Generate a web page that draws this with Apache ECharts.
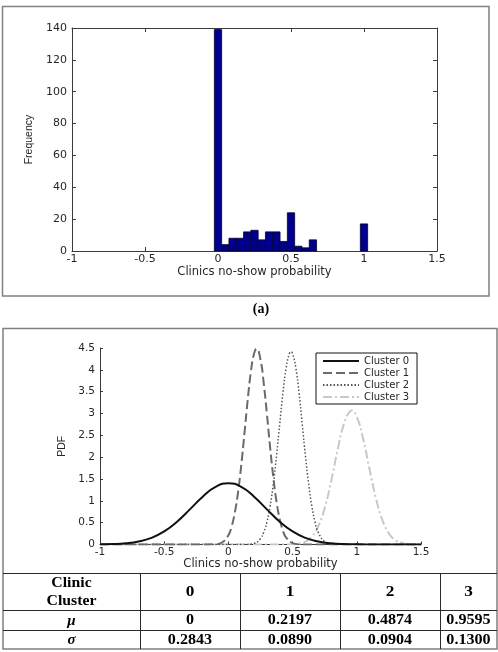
<!DOCTYPE html>
<html>
<head>
<meta charset="utf-8">
<script src="https://cdn.jsdelivr.net/npm/echarts@6/dist/echarts.min.js"></script>
<style>
html,body{margin:0;padding:0;background:#fff;}
#c{width:498px;height:652px;}
</style>
</head>
<body>
<div id="c"></div>
<script>
// ---- Histogram (a) ----
const histBins = [0, 0.05, 0.1, 0.15, 0.2, 0.25, 0.3, 0.35, 0.4, 0.45, 0.5, 0.55, 0.6, 0.65, 1.0];
const histFreq = [139, 4, 8, 8, 12, 13, 7, 12, 12, 6, 24, 3, 2, 7, 17];
const binWidth = 0.05;

// ---- PDF curves ----
const clusterNames = ['Cluster 0', 'Cluster 1', 'Cluster 2', 'Cluster 3'];
const c0X = [-1, -0.9, -0.8, -0.7, -0.6, -0.5, -0.4, -0.3, -0.2, -0.1, 0, 0.1, 0.2, 0.3, 0.4, 0.5, 0.6, 0.7, 0.8, 0.9, 1.0, 1.1, 1.2, 1.3, 1.4, 1.5];
const c0Y = [0.003, 0.009, 0.027, 0.068, 0.151, 0.299, 0.521, 0.804, 1.095, 1.319, 1.403, 1.319, 1.095, 0.804, 0.521, 0.299, 0.151, 0.068, 0.027, 0.009, 0.003, 0.001, 0, 0, 0, 0];
const c1X = [-1, -0.5, -0.2, -0.1, -0.05, 0, 0.025, 0.05, 0.075, 0.1, 0.125, 0.15, 0.175, 0.2, 0.22, 0.25, 0.275, 0.3, 0.325, 0.35, 0.375, 0.4, 0.425, 0.45, 0.5, 0.55, 0.6, 1, 1.5];
const c1Y = [0, 0, 0, 0.007, 0.046, 0.213, 0.410, 0.728, 1.196, 1.814, 2.545, 3.299, 3.952, 4.375, 4.483, 4.231, 3.696, 2.984, 2.226, 1.535, 0.978, 0.576, 0.313, 0.158, 0.031, 0.004, 0, 0, 0];
const c2X = [-1, -0.5, 0, 0.1, 0.2, 0.25, 0.275, 0.3, 0.325, 0.35, 0.375, 0.4, 0.425, 0.45, 0.475, 0.4874, 0.5, 0.525, 0.55, 0.575, 0.6, 0.625, 0.65, 0.675, 0.7, 0.75, 0.8, 0.85, 0.9, 1.5];
const c2Y = [0, 0, 0, 0, 0.028, 0.140, 0.279, 0.515, 0.879, 1.390, 2.037, 2.766, 3.477, 4.051, 4.372, 4.413, 4.370, 4.047, 3.472, 2.759, 2.031, 1.386, 0.875, 0.512, 0.278, 0.065, 0.011, 0.001, 0, 0];
const c3X = [-1, -0.5, 0, 0.4, 0.5, 0.55, 0.6, 0.65, 0.7, 0.75, 0.8, 0.85, 0.9, 0.95, 0.96, 1.0, 1.05, 1.1, 1.15, 1.2, 1.25, 1.3, 1.35, 1.4, 1.45, 1.5];
const c3Y = [0, 0, 0, 0, 0.006, 0.021, 0.067, 0.180, 0.419, 0.837, 1.446, 2.153, 2.764, 3.061, 3.069, 2.924, 2.409, 1.712, 1.049, 0.554, 0.253, 0.099, 0.034, 0.010, 0.002, 0.001];

// ---- Table ----
const tableHeaderLabel = ['Clinic', 'Cluster'];
const tableClusters = ['0', '1', '2', '3'];
const tableMu = ['0', '0.2197', '0.4874', '0.9595'];
const tableSigma = ['0.2843', '0.0890', '0.0904', '0.1300'];
const panelLabel = '(a)';
const xName = 'Clinics no-show probability';

const zip = (xs, ys) => xs.map((x, i) => [x, ys[i]]);

const AXC = '#3a3a3a';
const TXC = '#262626';
const SANS = 'DejaVu Sans';

function baseAxis(extra) {
  return Object.assign({
    type: 'value',
    axisLine: { show: true, onZero: false, lineStyle: { color: AXC, width: 1 } },
    axisTick: { show: true, inside: true, length: 4, lineStyle: { color: AXC } },
    splitLine: { show: false },
    axisLabel: { color: TXC, fontFamily: SANS, fontSize: 10 },
    nameTextStyle: { color: TXC, fontFamily: SANS, fontSize: 10 }
  }, extra);
}

const chart = echarts.init(document.getElementById('c'), null, { renderer: 'canvas', width: 498, height: 652 });

// table graphics
const colX = [3, 140, 240, 340, 440, 497];
const rowY = [573, 610, 630, 649];
const tableGraphics = [];
const LC = '#2a2a2a';
rowY.forEach((y, i) => {
  if (i === rowY.length - 1) return;
  tableGraphics.push({ type: 'line', shape: { x1: colX[0], y1: y + 0.5, x2: colX[5], y2: y + 0.5 }, style: { stroke: LC, lineWidth: 1 } });
});
colX.slice(1, 5).forEach(x => {
  tableGraphics.push({ type: 'line', shape: { x1: x + 0.5, y1: rowY[0], x2: x + 0.5, y2: rowY[3] }, style: { stroke: LC, lineWidth: 1 } });
});
function cellText(txt, cx, cy, font, sx) {
  return { type: 'text', x: cx, y: cy, scaleX: sx || 1, style: { text: txt, x: 0, y: 0, align: 'center', verticalAlign: 'middle', font: font, fill: '#000' } };
}
const numFont = 'bold 14px "Liberation Serif"';
tableGraphics.push(cellText(tableHeaderLabel[0], 71.5, 583.5, 'bold 15px "Liberation Serif"', 1.05));
tableGraphics.push(cellText(tableHeaderLabel[1], 71.5, 601.5, 'bold 15px "Liberation Serif"', 1.05));
tableGraphics.push(cellText('\u03bc', 71.5, 621, 'italic bold 15px "Liberation Serif"'));
tableGraphics.push(cellText('\u03c3', 71.5, 640, 'italic bold 15px "Liberation Serif"'));
for (let i = 0; i < 4; i++) {
  const cx = (colX[i + 1] + colX[i + 2]) / 2;
  tableGraphics.push(cellText(tableClusters[i], cx, 592.5, 'bold 15px "Liberation Serif"', 1.15));
  tableGraphics.push(cellText(tableMu[i], cx, 620.5, numFont, 1.15));
  tableGraphics.push(cellText(tableSigma[i], cx, 640, numFont, 1.15));
}

const option = {
  animation: false,
  backgroundColor: '#fff',
  grid: [
    { left: 72, top: 28, width: 365, height: 223, containLabel: false },
    { left: 100, top: 348, width: 321, height: 196.5, containLabel: false }
  ],
  xAxis: [
    baseAxis({ gridIndex: 0, min: -1, max: 1.5, interval: 0.5, position: 'bottom',
      axisLabel: { color: TXC, fontFamily: SANS, fontSize: 11, margin: 3 },
      name: xName, nameLocation: 'middle', nameGap: 14,
      nameTextStyle: { color: TXC, fontFamily: SANS, fontSize: 11.5 } }),
    baseAxis({ gridIndex: 0, min: -1, max: 1.5, interval: 0.5, position: 'top', axisLabel: { show: false } }),
    baseAxis({ gridIndex: 1, min: -1, max: 1.5, interval: 0.5, position: 'bottom',
      axisTick: { show: true, inside: true, length: 3, lineStyle: { color: AXC } },
      axisLabel: { color: TXC, fontFamily: SANS, fontSize: 10.5, margin: 2 },
      name: xName, nameLocation: 'middle', nameGap: 13,
      nameTextStyle: { color: TXC, fontFamily: SANS, fontSize: 11.5 } })
  ],
  yAxis: [
    baseAxis({ gridIndex: 0, min: 0, max: 140, interval: 20, position: 'left',
      axisLabel: { color: TXC, fontFamily: SANS, fontSize: 11, margin: 5 },
      name: 'Frequency', nameLocation: 'middle', nameGap: 31,
      nameTextStyle: { color: TXC, fontFamily: 'Liberation Sans', fontSize: 10.5 } }),
    baseAxis({ gridIndex: 0, min: 0, max: 140, interval: 20, position: 'right', axisLabel: { show: false } }),
    baseAxis({ gridIndex: 1, min: 0, max: 4.5, interval: 0.5, position: 'left',
      axisTick: { show: true, inside: true, length: 3, lineStyle: { color: AXC } },
      axisLabel: { color: TXC, fontFamily: SANS, fontSize: 10.5, margin: 5 },
      name: 'PDF', nameLocation: 'middle', nameGap: 23,
      nameTextStyle: { color: TXC, fontFamily: 'Liberation Sans', fontSize: 10.5 } })
  ],
  legend: {
    data: clusterNames,
    orient: 'vertical',
    left: 316, top: 353,
    padding: [3, 8, 2, 6],
    itemWidth: 36, itemHeight: 10, itemGap: 2,
    borderColor: '#111', borderWidth: 1, borderRadius: 0,
    backgroundColor: '#fff',
    itemStyle: { opacity: 0 },
    textStyle: { color: TXC, fontFamily: SANS, fontSize: 10 },
    selectedMode: false
  },
  series: [
    {
      type: 'custom',
      xAxisIndex: 0, yAxisIndex: 0,
      data: zip(histBins, histFreq),
      encode: { x: 0, y: 1 },
      renderItem: function (params, api) {
        const x = api.value(0), y = api.value(1);
        const p0 = api.coord([x - binWidth / 2, y]);
        const p1 = api.coord([x + binWidth / 2, 0]);
        return {
          type: 'rect',
          shape: { x: p0[0], y: p0[1], width: p1[0] - p0[0], height: p1[1] - p0[1] },
          style: { fill: '#00008c', stroke: '#000030', lineWidth: 0.8 }
        };
      }
    },
    {
      name: clusterNames[0], type: 'line', xAxisIndex: 2, yAxisIndex: 2,
      data: zip(c0X, c0Y), symbol: 'none', smooth: true,
      lineStyle: { color: '#111', width: 2, type: 'solid' }, itemStyle: { color: '#111' }, z: 5
    },
    {
      name: clusterNames[1], type: 'line', xAxisIndex: 2, yAxisIndex: 2,
      data: zip(c1X, c1Y), symbol: 'none', smooth: true,
      lineStyle: { color: '#6a6a6a', width: 2, type: [9, 4] }, itemStyle: { color: '#6a6a6a' }, z: 4
    },
    {
      name: clusterNames[2], type: 'line', xAxisIndex: 2, yAxisIndex: 2,
      data: zip(c2X, c2Y), symbol: 'none', smooth: true,
      lineStyle: { color: '#555', width: 1.5, type: [1.5, 2] }, itemStyle: { color: '#555' }, z: 3
    },
    {
      name: clusterNames[3], type: 'line', xAxisIndex: 2, yAxisIndex: 2,
      data: zip(c3X, c3Y), symbol: 'none', smooth: true,
      lineStyle: { color: '#c8c8c8', width: 2, type: [9, 3, 2, 3] }, itemStyle: { color: '#c8c8c8' }, z: 2
    }
  ],
  graphic: [
    { type: 'rect', shape: { x: 2.5, y: 6.5, width: 486.5, height: 289.5 }, style: { fill: null, stroke: '#808080', lineWidth: 1.5 }, z: -1 },
    { type: 'text', x: 261, y: 309, style: { text: panelLabel, x: 0, y: 0, align: 'center', verticalAlign: 'middle', font: 'bold 14px "Liberation Serif"', fill: '#000' } },
    { type: 'rect', shape: { x: 3, y: 328.5, width: 494, height: 320.5 }, style: { fill: null, stroke: '#808080', lineWidth: 1.5 }, z: -1 }
  ].concat(tableGraphics)
};
chart.setOption(option);
</script>
</body>
</html>
